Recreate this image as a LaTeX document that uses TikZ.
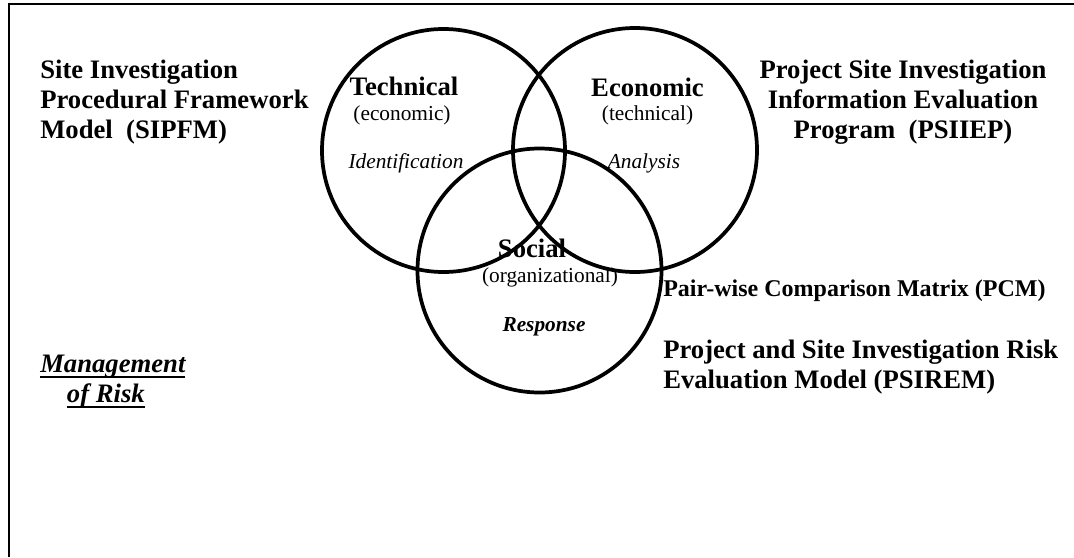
\documentclass[tikz,border=0pt]{standalone}
\usepackage{fontspec}
\setmainfont{Liberation Serif}
\newcommand\riskline[1]{\setbox0\hbox{#1}\rlap{\rule[-4.2pt]{\wd0}{1.5pt}}\box0}
\begin{document}
\begin{tikzpicture}[x=0.75pt,y=-0.75pt,
  ring/.style={line width=2.8pt},
  frame/.style={line width=1.5pt},
  bighead/.style={font=\bfseries\fontsize{20}{22.5}\selectfont,inner sep=0pt},
  midhead/.style={font=\bfseries\fontsize{18}{22.5}\selectfont,inner sep=0pt},
  subtext/.style={font=\fontsize{16}{19}\selectfont,inner sep=0pt},
  phase/.style={font=\itshape\fontsize{16}{19}\selectfont,inner sep=0pt}]
\useasboundingbox (0,0) rectangle (1074,557);
\draw [frame] (9,557) -- (9,4) -- (1074,4);
% the three overlapping fields
\draw [ring] (443.5,150.5) circle [radius=121.5];
\draw [ring] (635,150) circle [radius=122];
\draw [ring] (539.5,270.5) circle [radius=122];
% labels inside the circles
\node (tech)  [bighead,anchor=base] at (404,95) {Technical};
\node (techs) [subtext,anchor=base] at (402,120) {(economic)};
\node (ident) [phase,anchor=base] at (406,168) {Identification};
\node (econ)  [bighead,anchor=base] at (647.5,96) {Economic};
\node (econs) [subtext,anchor=base] at (647.5,120) {(technical)};
\node (anal)  [phase,anchor=base] at (644,168) {Analysis};
\node (soc)   [bighead,anchor=base] at (532,257) {Social};
\node (socs)  [subtext,anchor=base] at (550,282) {(organizational)};
\node (resp)  [phase,anchor=base,font=\bfseries\itshape\fontsize{16}{19}\selectfont] at (544,331) {Response};
% models round the diagram (base = last line)
\node (sipfm)  [bighead,anchor=base west,align=left] at (40,138)
  {Site Investigation\\Procedural Framework\\Model\ \ (SIPFM)};
\node (psiiep) [bighead,anchor=base,align=center] at (903,138)
  {Project Site Investigation\\Information Evaluation\\Program\ \ (PSIIEP)};
\node (pcm)    [midhead,anchor=base west] at (663,296) {Pair-wise Comparison Matrix (PCM)};
\node (psirem) [bighead,anchor=base west,align=left] at (663,388)
  {Project and Site Investigation Risk\\Evaluation Model (PSIREM)};
\node (mgmt)   [bighead,anchor=base west,align=left,font=\bfseries\itshape\fontsize{20}{22.5}\selectfont] at (40,402)
  {\riskline{Management}\\\hspace*{20pt}\riskline{of Risk}};
\end{tikzpicture}
\end{document}
